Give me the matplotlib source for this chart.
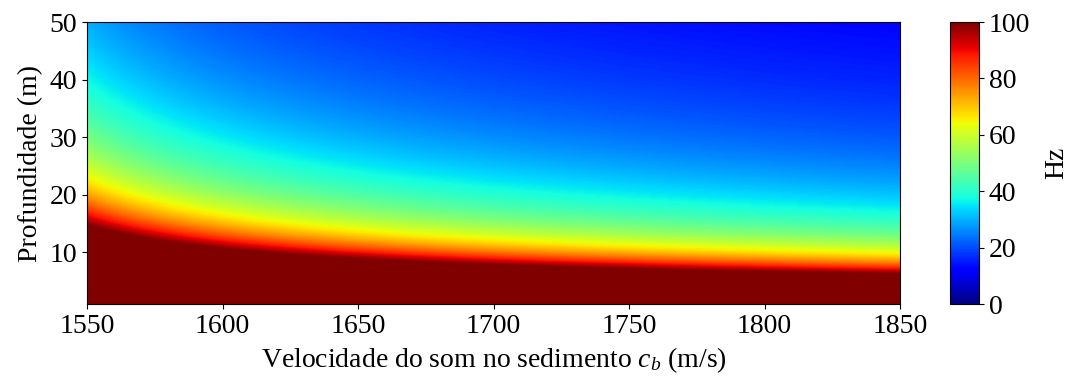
import numpy as np
import matplotlib
matplotlib.use("Agg")
import matplotlib.pyplot as plt

plt.rcParams['font.family'] = ['Liberation Serif', 'DejaVu Serif']
plt.rcParams['mathtext.fontset'] = 'custom'
plt.rcParams['mathtext.it'] = 'Liberation Serif:italic'
plt.rcParams['mathtext.rm'] = 'Liberation Serif'

# Data: sediment sound speed axis (m/s), depth axis (m)
c_water = 1500.0
c_b = np.linspace(1550, 1850, 301)
depth = np.linspace(1, 50, 246)
x_ticks = [1550, 1600, 1650, 1700, 1750, 1800, 1850]
y_ticks = [10, 20, 30, 40, 50]
cbar_ticks = [0, 20, 40, 60, 80, 100]

# Cutoff frequency of the first mode (Hz) for each (depth, c_b)
CB, D = np.meshgrid(c_b, depth)
freq = c_water / (4.0 * D * np.sqrt(1.0 - (c_water / CB) ** 2))

fs = 20
fig = plt.figure(figsize=(10.67, 3.76), dpi=100)
ax = fig.add_axes([87/1067, 1 - 304/376, (900-87)/1067, (304-22)/376])
cax = fig.add_axes([950/1067, 1 - 304/376, (979-950)/1067, (304-22)/376])

im = ax.pcolormesh(c_b, depth, freq, cmap='jet', vmin=0, vmax=100, shading='gouraud')
ax.set_xlim(1550, 1850)
ax.set_ylim(1, 50)
ax.set_xticks(x_ticks)
ax.set_yticks(y_ticks)
ax.tick_params(labelsize=fs)
ax.set_xlabel('Velocidade do som no sedimento $c_b$ (m/s)', fontsize=fs, labelpad=5)
ax.set_ylabel('Profundidade (m)', fontsize=fs, labelpad=5)

cb = fig.colorbar(im, cax=cax)
cb.set_ticks(cbar_ticks)
cb.ax.tick_params(labelsize=fs)
cb.set_label('Hz', fontsize=fs, labelpad=10)

fig.savefig('out.png', dpi=100)
